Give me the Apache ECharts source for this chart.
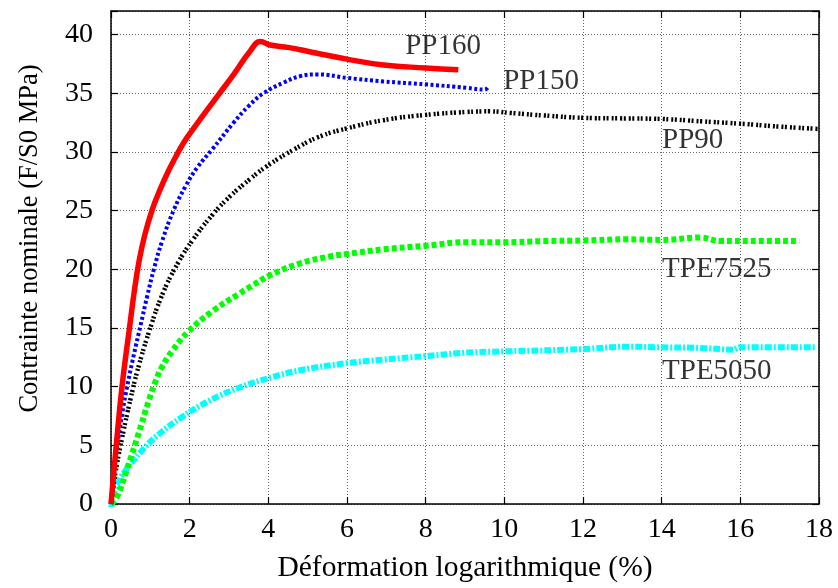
<!DOCTYPE html>
<html>
<head>
<meta charset="utf-8">
<script src="https://cdn.jsdelivr.net/npm/echarts@6/dist/echarts.min.js"></script>
<style>html,body{margin:0;padding:0;background:#fff}#c{width:838px;height:588px}</style>
</head>
<body>
<div id="c"></div>
<script>
// Strain (%) / stress (MPa)
const pp160X = [0, 0.12, 0.28, 0.47, 0.6, 0.72, 0.85, 1.04, 1.25, 1.45, 1.65, 1.85, 2.1, 2.74, 3.12, 3.54, 3.8, 4.05, 4.5, 4.81, 5.24, 6.0, 6.93, 8.0, 8.83];
const pp160Y = [0, 4.5, 10.0, 15.0, 18.3, 20.8, 22.8, 25.0, 26.8, 28.3, 29.6, 30.8, 32.0, 34.9, 36.6, 38.6, 39.4, 39.1, 38.9, 38.7, 38.4, 37.9, 37.4, 37.15, 37.0];

const pp150X = [0, 0.06, 0.16, 0.28, 0.41, 0.58, 0.75, 0.92, 1.09, 1.3, 1.59, 1.9, 2.2, 2.57, 3.12, 3.5, 3.88, 4.39, 4.81, 5.24, 6.0, 6.93, 8.0, 9.05, 9.5, 9.6];
const pp150Y = [0, 2.4, 5.0, 7.6, 10.0, 12.7, 15.2, 17.7, 20.0, 22.4, 25.0, 27.1, 28.7, 30.2, 32.5, 33.9, 35.0, 35.9, 36.45, 36.6, 36.3, 36.0, 35.75, 35.45, 35.3, 35.6];

const pp90X = [0, 0.11, 0.28, 0.5, 0.7, 0.96, 1.3, 1.68, 2.1, 2.57, 2.99, 3.54, 3.97, 4.65, 5.3, 6.0, 6.93, 8.0, 9.05, 9.6, 10.2, 11, 12, 13, 14, 15, 16, 17, 18];
const pp90Y = [0, 2.6, 5.6, 9.0, 11.7, 14.6, 17.8, 20.4, 22.6, 24.6, 26.1, 27.7, 28.8, 30.2, 31.3, 32.0, 32.7, 33.15, 33.4, 33.45, 33.3, 33.1, 32.9, 32.85, 32.8, 32.6, 32.4, 32.15, 31.95];

const tpe7525X = [0, 0.15, 0.41, 0.7, 0.96, 1.15, 1.3, 1.55, 1.97, 2.57, 3.25, 3.54, 4.05, 4.81, 5.58, 6.0, 6.93, 8.0, 9.05, 10, 11, 12, 13.1, 14, 14.98, 15.5, 16.5, 17.5];
const tpe7525Y = [0, 0.6, 3.0, 6.0, 8.8, 10.6, 11.7, 13.0, 14.7, 16.4, 17.9, 18.5, 19.5, 20.5, 21.1, 21.3, 21.7, 22.0, 22.3, 22.3, 22.4, 22.45, 22.55, 22.5, 22.7, 22.4, 22.4, 22.4];

const tpe5050X = [0, 0.08, 0.2, 0.5, 0.8, 1.2, 1.8, 2.5, 3.25, 4.09, 4.81, 6.0, 6.93, 8.0, 9.05, 10, 12, 13.1, 14, 15, 15.8, 16, 17.94];
const tpe5050Y = [-0.5, 1.0, 2.0, 3.4, 4.6, 5.9, 7.4, 8.8, 9.9, 10.8, 11.4, 12.0, 12.3, 12.6, 12.9, 13.0, 13.2, 13.4, 13.35, 13.3, 13.15, 13.35, 13.35];

const seriesNames = ['PP160', 'PP150', 'PP90', 'TPE7525', 'TPE5050'];
// Label anchors (strain, stress) for curve names
const labelX = [7.48, 9.97, 14.01, 14.01, 14.01];
const labelY = [39.0, 36.0, 31.0, 20.0, 11.3];

const xTicks = [0, 2, 4, 6, 8, 10, 12, 14, 16, 18];
const yTicks = [0, 5, 10, 15, 20, 25, 30, 35, 40];

const zip = (xs, ys) => xs.map((x, i) => [x, ys[i]]);
const FONT = 'Liberation Serif';

const lineDefs = [
  { data: zip(pp160X, pp160Y), color: '#ff0000', width: 5.5, type: 'solid' },
  { data: zip(pp150X, pp150Y), color: '#0000ff', width: 4, type: [3, 2.5] },
  { data: zip(pp90X, pp90Y), color: '#000000', width: 4.5, type: [2, 1.5, 2, 3] },
  { data: zip(tpe7525X, tpe7525Y), color: '#00ff00', width: 6, type: [5, 3] },
  { data: zip(tpe5050X, tpe5050Y), color: '#00ffff', width: 6, type: [7, 2, 2, 2] }
];

const series = lineDefs.map((d, i) => ({
  name: seriesNames[i],
  type: 'line',
  data: d.data,
  showSymbol: false,
  smooth: 0.45,
  lineStyle: { color: d.color, width: d.width, type: d.type, cap: 'butt', join: 'round' },
  z: 5 - i,
  silent: true
}));

series.push({
  type: 'scatter',
  symbolSize: 0,
  silent: true,
  data: seriesNames.map((n, i) => ({ value: [labelX[i], labelY[i]], name: n })),
  label: {
    show: true,
    position: 'right',
    distance: 0,
    formatter: p => p.name,
    fontFamily: FONT,
    fontSize: 29,
    color: '#000'
  },
  z: 10
});

const axisCommon = {
  axisLine: { show: true, onZero: false, lineStyle: { color: '#000', width: 1.5 } },
  axisTick: { show: true, inside: true, length: 7, lineStyle: { color: '#000', width: 1.2 } },
  splitLine: { show: false }
};

const option = {
  backgroundColor: '#fff',
  animation: false,
  grid: { left: 111, right: 19, top: 11, bottom: 79, containLabel: false },
  xAxis: [
    Object.assign({}, axisCommon, {
      type: 'value', min: 0, max: 18, interval: 2,
      name: 'Déformation logarithmique (%)',
      nameLocation: 'middle', nameGap: 49,
      nameTextStyle: { fontFamily: FONT, fontSize: 29.5, color: '#000' },
      axisLabel: { fontFamily: FONT, fontSize: 28, color: '#000', margin: 12,
        formatter: v => xTicks.includes(v) ? String(v) : '' },
      splitLine: { show: true, lineStyle: { color: '#666', width: 1, type: [1, 2] } }
    }),
    Object.assign({}, axisCommon, {
      type: 'value', min: 0, max: 18, interval: 2, position: 'top',
      axisLabel: { show: false }
    })
  ],
  yAxis: [
    Object.assign({}, axisCommon, {
      type: 'value', min: 0, max: 42, interval: 5,
      name: 'Contrainte nominale (F/S0 MPa)',
      nameLocation: 'middle', nameGap: 67,
      nameTextStyle: { fontFamily: FONT, fontSize: 26.5, color: '#000', padding: [0, 0, 0, 38] },
      axisLabel: { fontFamily: FONT, fontSize: 28, color: '#000', margin: 18,
        formatter: v => yTicks.includes(v) ? String(v) : '' },
      splitLine: { show: true, lineStyle: { color: '#666', width: 1, type: [1, 2] } }
    }),
    Object.assign({}, axisCommon, {
      type: 'value', min: 0, max: 42, interval: 5, position: 'right',
      axisLabel: { show: false }
    })
  ],
  series: series
};

const chart = echarts.init(document.getElementById('c'), null, { renderer: 'canvas' });
chart.setOption(option);
</script>
</body>
</html>
